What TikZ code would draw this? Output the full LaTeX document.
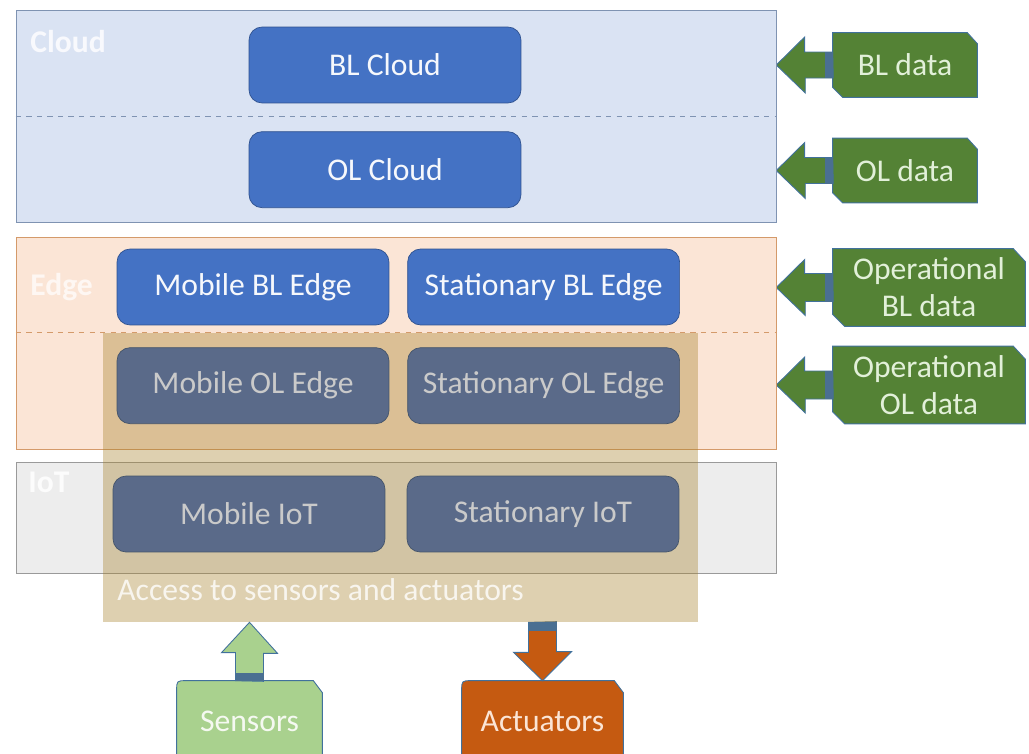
\documentclass[tikz,border=0pt]{standalone}
\usepackage{fontspec}
\setmainfont{Carlito}
\usepackage{xcolor}
\usepackage{tikz}
\usetikzlibrary{positioning,calc,backgrounds}

\definecolor{cloudfill}{HTML}{DAE3F3}
\definecolor{cloudline}{HTML}{7F93B2}
\definecolor{edgefill}{HTML}{FBE5D6}
\definecolor{edgeline}{HTML}{D49A6A}
\definecolor{iotfill}{HTML}{EDEDED}
\definecolor{iotline}{HTML}{9A9A9A}
\definecolor{accessfill}{HTML}{A57F28}
\definecolor{blfill}{HTML}{4472C4}
\definecolor{blline}{HTML}{2F528F}
\definecolor{olfill}{HTML}{5A6A89}
\definecolor{olline}{HTML}{44546A}
\definecolor{oltext}{HTML}{CACACA}
\definecolor{datafill}{HTML}{548235}
\definecolor{datatext}{HTML}{E2F0D9}
\definecolor{calloutline}{HTML}{41719C}
\definecolor{stripe}{HTML}{4A6F92}
\definecolor{sensorfill}{HTML}{A9D18E}
\definecolor{actfill}{HTML}{C55A11}

\begin{document}
\begin{tikzpicture}[
    x=0.02cm, y=-0.02cm,
    every node/.style={font=\fontsize{18}{21}\selectfont},
    layer/.style={draw, minimum width=15.2cm, inner sep=0pt},
    layerlabel/.style={anchor=west, inner sep=0pt, font=\fontsize{18}{21}\selectfont\bfseries},
    access/.style={fill=accessfill, fill opacity=0.37, minimum width=11.9cm, minimum height=5.78cm, inner sep=0pt},
    blbox/.style={draw=blline, fill=blfill, text=white!95!blfill, rounded corners=0.26cm, minimum width=5.44cm, minimum height=1.52cm},
    olbox/.style={blbox, draw=olline, fill=olfill, text=oltext},
    datanode/.style={align=center, text=datatext, minimum height=1.28cm, inner sep=0pt},
    databox/.style={fill=datafill, draw=calloutline, line width=0.5pt},
    stripebox/.style={fill=stripe}
]
\useasboundingbox (0,0) rectangle (1029,754);

\node[layer, fill=cloudfill, draw=cloudline, minimum height=4.24cm] (cloud) at (396,116) {};
\node[layer, fill=edgefill, draw=edgeline, minimum height=4.24cm] (edge) at (396,343) {};
\node[layer, fill=iotfill, draw=iotline, minimum height=2.22cm] (iot) at (396,517.5) {};
\draw[cloudline, dashed] (cloud.west) -- (cloud.east);

\node[layerlabel, text=white!80!cloudfill] (cloudname) at (30,42) {Cloud};
\node[layerlabel, text=white!70!edgefill] (edgename) at (30,287) {Edge};
\node[layerlabel, text=white!85!iotfill] (iotname) at (28,482) {IoT};

\node[access] (access) at (400.5,477.5) {};
\draw[edgeline, dashed] (edge.west |- access.north) -- (edge.east |- access.north);
\node[anchor=west, inner sep=0pt, text=white!80!accessfill!40] (accesslbl) at (117,590) {Access to sensors and actuators};

\node[blbox] (blcloud) at (385,65) {BL Cloud};
\node[blbox, below=0.56cm of blcloud] (olcloud) {OL Cloud};
\node[blbox] (mbledge) at (253,287) {Mobile BL Edge};
\node[blbox, right=0.36cm of mbledge] (sbledge) {Stationary BL Edge};
\node[olbox, below=0.44cm of mbledge] (moledge) {Mobile OL Edge};
\node[olbox, right=0.36cm of moledge] (soledge) {Stationary OL Edge};
\node[olbox] (miot) at (249,514) {Mobile IoT};
\node[olbox] (siot) at (543,514) {Stationary IoT};

\node[datanode, minimum width=2.88cm] (bldata) at (905,65) {BL data};
\node[datanode, minimum width=2.88cm] (oldata) at (905,170.5) {OL data};
\node[datanode, minimum width=3.84cm, minimum height=1.54cm] (opbldata) at (929,287.5) {Operational\\BL data};
\node[datanode, minimum width=3.84cm, minimum height=1.54cm] (opoldata) at (929,385) {Operational\\OL data};

\node[text=white!88!sensorfill, minimum width=2.9cm, minimum height=1.6cm] (sensors) at (249.5,721) {Sensors};
\node[text=edgefill, minimum width=3.22cm, minimum height=1.6cm] (actuators) at (542.5,721) {Actuators};

\begin{scope}[on background layer]
\filldraw[databox] (bldata.north west) -- ($(bldata.north east)+(-10,0)$) -- ($(bldata.north east)+(0,11)$) -- (bldata.south east) -- ($(bldata.south west)+(10,0)$) -- ($(bldata.south west)+(0,-10)$) -- cycle;
\filldraw[databox] (oldata.north west) -- ($(oldata.north east)+(-10,0)$) -- ($(oldata.north east)+(0,11)$) -- (oldata.south east) -- ($(oldata.south west)+(10,0)$) -- ($(oldata.south west)+(0,-10)$) -- cycle;
\filldraw[databox] (opbldata.north west) -- ($(opbldata.north east)+(-12,0)$) -- ($(opbldata.north east)+(0,13)$) -- (opbldata.south east) -- ($(opbldata.south west)+(12,0)$) -- ($(opbldata.south west)+(0,-12)$) -- cycle;
\filldraw[databox] (opoldata.north west) -- ($(opoldata.north east)+(-12,0)$) -- ($(opoldata.north east)+(0,13)$) -- (opoldata.south east) -- ($(opoldata.south west)+(12,0)$) -- ($(opoldata.south west)+(0,-12)$) -- cycle;

\filldraw[databox] (bldata.west) ++(0,-13) -- ++(-28,0) -- ++(0,-15) -- (cloud.east |- bldata.west) -- ++(29,28) -- ++(0,-15) -- ++(28,0) -- cycle;
\filldraw[databox] (oldata.west) ++(0,-13) -- ++(-28,0) -- ++(0,-15) -- (cloud.east |- oldata.west) -- ++(29,28) -- ++(0,-15) -- ++(28,0) -- cycle;
\filldraw[databox] (opbldata.west) ++(0,-14) -- ++(-28,0) -- ++(0,-14) -- (edge.east |- opbldata.west) -- ++(29,28) -- ++(0,-14) -- ++(28,0) -- cycle;
\filldraw[databox] (opoldata.west) ++(0,-14) -- ++(-28,0) -- ++(0,-14) -- (edge.east |- opoldata.west) -- ++(29,28) -- ++(0,-14) -- ++(28,0) -- cycle;
\fill[stripebox] ($(bldata.west)+(-8,-13)$) rectangle ++(8,26);
\fill[stripebox] ($(oldata.west)+(-8,-13)$) rectangle ++(8,26);
\fill[stripebox] ($(opbldata.west)+(-8,-14)$) rectangle ++(8,28);
\fill[stripebox] ($(opoldata.west)+(-8,-14)$) rectangle ++(8,28);

\filldraw[fill=sensorfill, draw=calloutline, line width=0.5pt] (sensors.south west) -- ($(sensors.north west)+(0,10)$) .. controls (sensors.north west) .. ($(sensors.north west)+(10,0)$) -- ($(sensors.north east)+(-9,0)$) -- ($(sensors.north east)+(0,12)$) -- (sensors.south east) -- cycle;
\filldraw[fill=actfill, draw=calloutline, line width=0.5pt] (actuators.south west) -- ($(actuators.north west)+(0,10)$) .. controls (actuators.north west) .. ($(actuators.north west)+(10,0)$) -- ($(actuators.north east)+(-9,0)$) -- ($(actuators.north east)+(0,12)$) -- (actuators.south east) -- cycle;
\filldraw[fill=sensorfill, draw=calloutline, line width=0.5pt] (sensors.north) ++(-14,0) -- ++(0,-28) -- ++(-14,0) -- (sensors.north |- access.south) -- ++(28,31) -- ++(-14,0) -- ++(0,28) -- cycle;
\filldraw[fill=actfill, draw=calloutline, line width=0.5pt] ($(access.south -| actuators.north)+(-14,0)$) -- ++(0,30) -- ++(-15,0) -- (actuators.north) -- ++(29,-29) -- ++(-15,0) -- ++(0,-30) -- cycle;
\fill[stripebox] ($(sensors.north)+(-14,-8)$) rectangle ++(28,8);
\fill[stripebox] ($(access.south -| actuators.north)+(-14,0)$) rectangle ++(28,9);
\end{scope}
\end{tikzpicture}
\end{document}
